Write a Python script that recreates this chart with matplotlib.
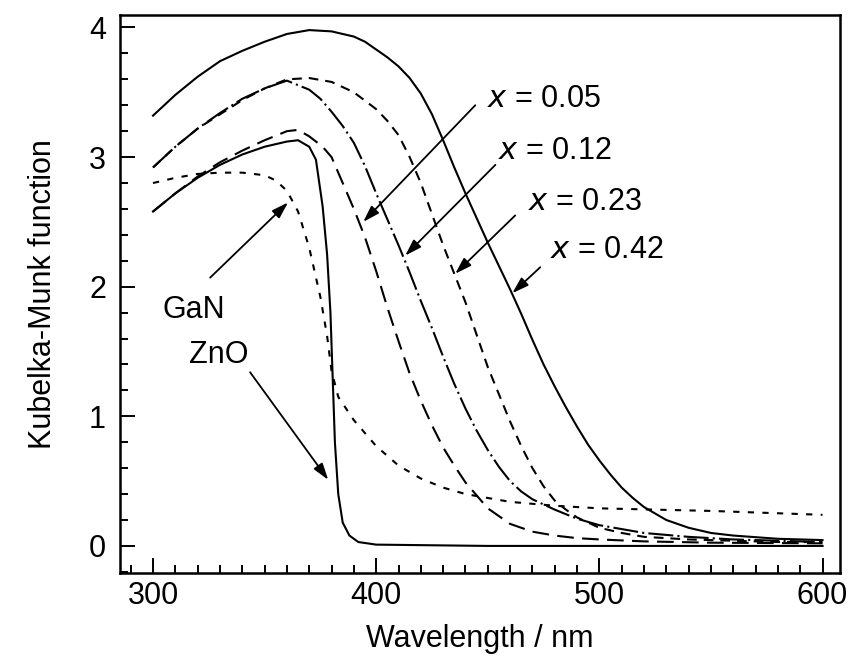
import matplotlib
matplotlib.use("Agg")
import matplotlib.pyplot as plt
from matplotlib.ticker import MultipleLocator

plt.rcParams['font.family'] = ['Liberation Sans', 'DejaVu Sans']
plt.rcParams['lines.scale_dashes'] = False

# ---- data ----
wl_042 = [300, 310, 320, 330, 340, 350, 360, 370, 380, 390, 395, 400, 405, 410, 415, 420, 425,
          430, 435, 440, 445, 450, 455, 460, 465, 470, 475, 480, 485, 490, 495, 500, 505, 510,
          515, 520, 530, 540, 550, 560, 580, 600]
km_042 = [3.32, 3.48, 3.62, 3.74, 3.82, 3.89, 3.95, 3.98, 3.97, 3.93, 3.89, 3.83, 3.77, 3.70,
          3.61, 3.49, 3.33, 3.13, 2.92, 2.72, 2.53, 2.34, 2.16, 1.98, 1.79, 1.59, 1.40, 1.23,
          1.07, 0.92, 0.78, 0.66, 0.55, 0.45, 0.37, 0.30, 0.20, 0.14, 0.10, 0.08, 0.055, 0.045]

wl_023 = [300, 310, 320, 330, 340, 350, 360, 370, 380, 390, 400, 405, 410, 415, 420, 425, 430,
          435, 440, 445, 450, 455, 460, 465, 470, 475, 480, 485, 490, 500, 510, 520, 540, 560,
          580, 600]
km_023 = [2.92, 3.08, 3.22, 3.33, 3.44, 3.53, 3.60, 3.61, 3.58, 3.50, 3.37, 3.28, 3.17, 3.00,
          2.80, 2.56, 2.32, 2.10, 1.88, 1.63, 1.38, 1.17, 0.96, 0.77, 0.60, 0.46, 0.35, 0.28,
          0.22, 0.14, 0.10, 0.07, 0.05, 0.04, 0.03, 0.03]

wl_012 = [300, 310, 320, 330, 340, 350, 360, 370, 375, 380, 385, 390, 395, 400, 405, 410, 415,
          420, 425, 430, 435, 440, 445, 450, 455, 460, 465, 470, 480, 490, 500, 520, 540, 560,
          580, 600]
km_012 = [2.92, 3.08, 3.22, 3.34, 3.45, 3.53, 3.59, 3.52, 3.45, 3.35, 3.24, 3.11, 2.93, 2.72,
          2.52, 2.32, 2.11, 1.89, 1.68, 1.46, 1.25, 1.06, 0.89, 0.74, 0.61, 0.50, 0.42, 0.36,
          0.28, 0.21, 0.16, 0.10, 0.07, 0.05, 0.04, 0.03]

wl_005 = [300, 310, 320, 330, 340, 350, 360, 365, 370, 376, 380, 385, 390, 395, 400, 405, 410,
          415, 420, 425, 430, 435, 440, 450, 460, 470, 480, 490, 500, 520, 550, 600]
km_005 = [2.58, 2.72, 2.85, 2.96, 3.05, 3.13, 3.20, 3.21, 3.16, 3.08, 3.00, 2.80, 2.60, 2.38,
          2.12, 1.84, 1.58, 1.33, 1.12, 0.93, 0.76, 0.62, 0.49, 0.29, 0.17, 0.11, 0.08, 0.06,
          0.05, 0.035, 0.025, 0.02]

wl_zno = [300, 310, 320, 330, 340, 350, 360, 365, 370, 373, 376, 378, 379.5, 380.5, 381.5,
          383, 385, 388, 392, 400, 450, 600]
km_zno = [2.58, 2.72, 2.84, 2.94, 3.02, 3.08, 3.12, 3.13, 3.08, 2.98, 2.62, 2.25, 1.80, 1.30,
          0.80, 0.40, 0.18, 0.08, 0.03, 0.01, 0.0, 0.0]

wl_gan = [300, 310, 320, 330, 340, 350, 355, 360, 365, 370, 375, 378, 380, 383, 390, 400, 410,
          420, 430, 440, 460, 480, 500, 550, 600]
km_gan = [2.80, 2.84, 2.87, 2.88, 2.88, 2.86, 2.82, 2.74, 2.58, 2.30, 1.92, 1.62, 1.35, 1.15,
          0.97, 0.77, 0.62, 0.52, 0.45, 0.40, 0.34, 0.31, 0.29, 0.27, 0.24]

x_ticks = [300, 400, 500, 600]
y_ticks = [0, 1, 2, 3, 4]

fig = plt.figure(figsize=(8.51, 6.60), dpi=100)
ax = fig.add_axes([0.141, 0.132, 0.846, 0.845])

lw = 1.5
ax.plot(wl_042, km_042, color='black', lw=lw, linestyle='-')
ax.plot(wl_023, km_023, color='black', lw=lw, linestyle=(0, (7, 5)))
ax.plot(wl_012, km_012, color='black', lw=lw, linestyle=(0, (18, 3, 1.5, 3)))
ax.plot(wl_005, km_005, color='black', lw=lw, linestyle=(0, (12, 6)))
ax.plot(wl_zno, km_zno, color='black', lw=lw, linestyle='-')
ax.plot(wl_gan, km_gan, color='black', lw=lw, linestyle=(0, (4.5, 6)))

ax.set_xlim(285.2, 607.8)
ax.set_ylim(-0.208, 4.095)
ax.set_xticks(x_ticks)
ax.set_yticks(y_ticks)
ax.xaxis.set_minor_locator(MultipleLocator(10))
ax.yaxis.set_minor_locator(MultipleLocator(0.2))
ax.tick_params(which='both', direction='in', top=False, right=False, width=1.4,
               labelsize=22, color='black')
ax.tick_params(axis='x', which='major', length=11, pad=6)
ax.tick_params(axis='y', which='major', length=11, pad=10)
ax.tick_params(which='minor', length=6)
for s in ax.spines.values():
    s.set_linewidth(1.8)

ax.set_xlabel('Wavelength / nm', fontsize=22, labelpad=9)
ax.set_ylabel('Kubelka-Munk function', fontsize=22, labelpad=22)

arrow = dict(arrowstyle='-|>,head_length=1.0,head_width=0.32', color='black', lw=1.3,
             shrinkA=0, shrinkB=0)

labels = [('0.05', (449.8, 3.45), (444.4, 3.40), (394.2, 2.50)),
          ('0.12', (454.7, 3.05), (453.4, 2.94), (413.0, 2.24)),
          ('0.23', (468.2, 2.65), (462.3, 2.55), (435.4, 2.10)),
          ('0.42', (478.0, 2.28), (473.5, 2.15), (461.0, 1.95))]
for val, tpos, tail, tip in labels:
    ax.text(tpos[0], tpos[1], r'$\mathit{x}$' + ' = ' + val, fontsize=22,
            ha='left', va='center')
    ax.annotate('', xy=tip, xytext=tail, arrowprops=arrow)

ax.text(318.4, 1.82, 'GaN', fontsize=22, ha='center', va='center')
ax.annotate('', xy=(360.5, 2.65), xytext=(325.6, 2.07), arrowprops=arrow)
ax.text(329.6, 1.47, 'ZnO', fontsize=22, ha='center', va='center')
ax.annotate('', xy=(378.5, 0.51), xytext=(343.5, 1.34), arrowprops=arrow)

fig.savefig('out.png', dpi=100)
